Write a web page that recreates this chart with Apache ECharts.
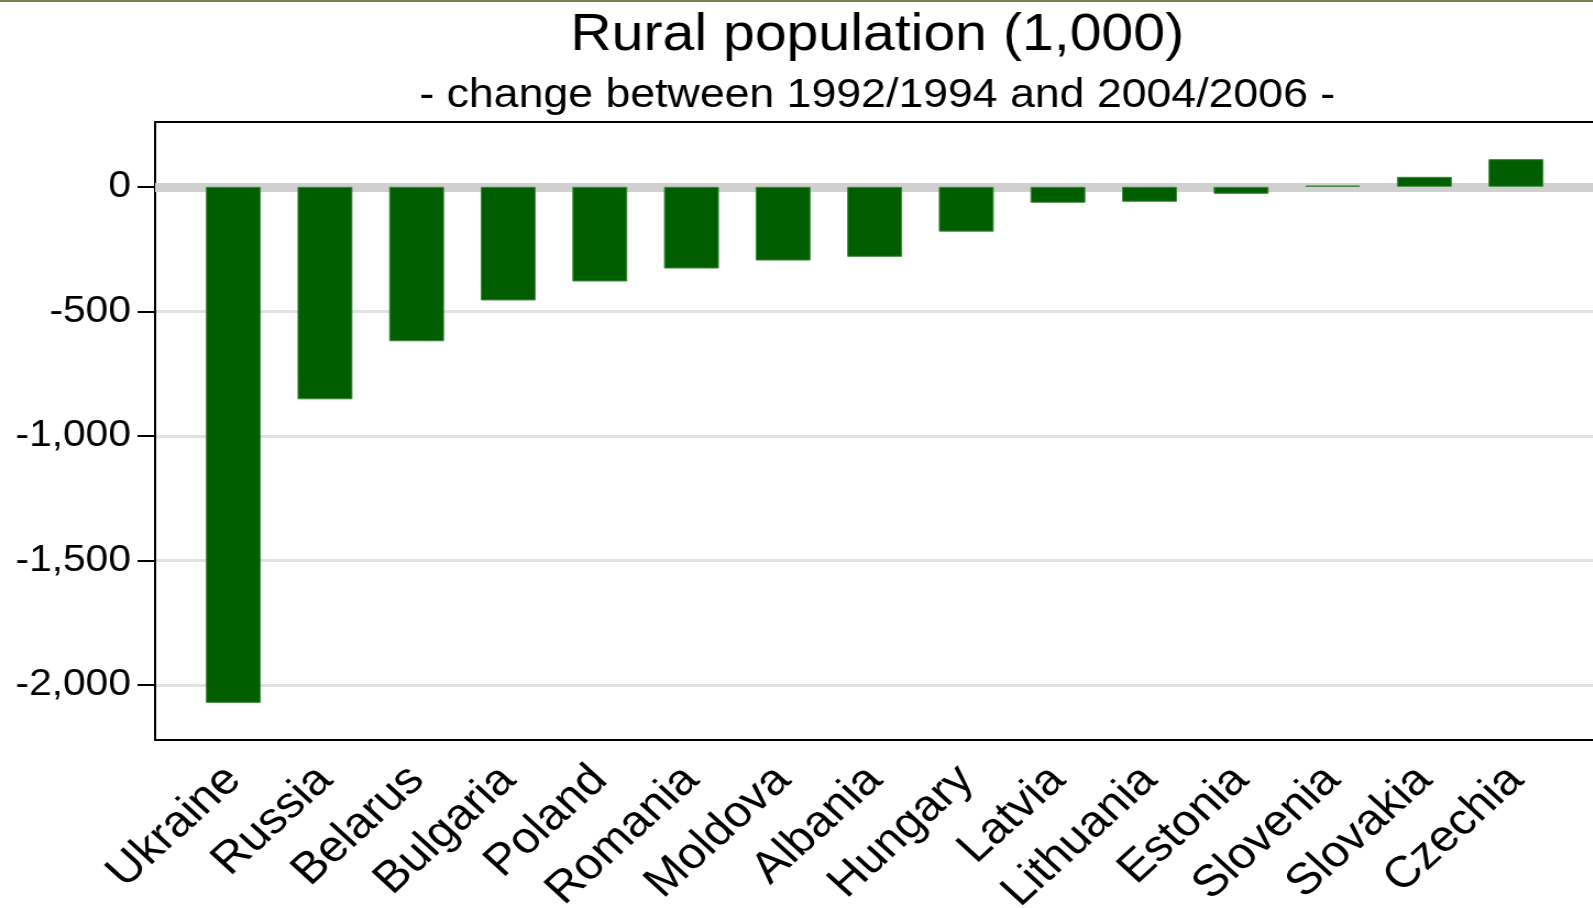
<!DOCTYPE html>
<html>
<head>
<meta charset="utf-8">
<script src="https://cdn.jsdelivr.net/npm/echarts@6/dist/echarts.min.js"></script>
<style>
html,body{margin:0;padding:0;background:#fff;overflow:hidden;}
#wrap{width:1593px;height:908px;overflow:hidden;}
#chart{width:1448px;height:908px;transform:scaleX(1.1);transform-origin:0 0;}
</style>
</head>
<body>
<div id="wrap"><div id="chart"></div></div>
<script>
const titleText = 'Rural population (1,000)';
const subtitleText = '- change between 1992/1994 and 2004/2006 -';
const countries = ['Ukraine','Russia','Belarus','Bulgaria','Poland','Romania','Moldova','Albania','Hungary','Latvia','Lithuania','Estonia','Slovenia','Slovakia','Czechia'];
const changeValues = [-2071, -853, -620, -456, -380, -328, -296, -281, -180, -64, -60, -28, 5, 40, 111];
const yTickValues = [0, -500, -1000, -1500, -2000];
const yMin = -2220, yMax = 260;

const chart = echarts.init(document.getElementById('chart'), null, {renderer:'canvas'});
const FONT = '"Liberation Sans", Arial, sans-serif';
const fmt = v => Number(v).toLocaleString('en-US');

chart.setOption({
  animation: false,
  backgroundColor: '#fff',
  title: [
    {text: titleText, left: 792.5, top: 5, textAlign: 'center',
     textStyle: {fontFamily: FONT, fontSize: 52, fontWeight: 'normal', color: '#000'}},
    {text: subtitleText, left: 792.5, top: 70, textAlign: 'center',
     textStyle: {fontFamily: FONT, fontSize: 40.6, fontWeight: 'normal', color: '#000'}}
  ],
  graphic: [
    {type: 'rect', shape: {x: 0, y: 0, width: 1448, height: 2}, style: {fill: '#7d7d52'}, silent: true}
  ],
  grid: [
    {left: 141, right: 0, top: 122, bottom: 168, containLabel: false, outerBoundsMode: 'none'},
    {left: 170.5, right: 28.2, top: 122, bottom: 168, containLabel: false, outerBoundsMode: 'none'}
  ],
  xAxis: [
    {type: 'value', gridIndex: 0, min: 0, max: 1, position: 'bottom',
     axisLine: {show: true, onZero: false, lineStyle: {color: '#000', width: 2}},
     axisTick: {show: false}, axisLabel: {show: false}, splitLine: {show: false}},
    {type: 'category', gridIndex: 1, data: countries, boundaryGap: true,
     axisLine: {show: false}, axisTick: {show: false},
     axisLabel: {rotate: 45, margin: 33, fontFamily: FONT, fontSize: 44, color: '#000', interval: 0}},
    {type: 'value', gridIndex: 0, min: 0, max: 1, position: 'top',
     axisLine: {show: true, onZero: false, lineStyle: {color: '#000', width: 2}},
     axisTick: {show: false}, axisLabel: {show: false}, splitLine: {show: false}}
  ],
  yAxis: [
    {type: 'value', gridIndex: 0, min: yMin, max: yMax,
     axisLine: {show: true, onZero: false, lineStyle: {color: '#000', width: 2}},
     axisTick: {show: true, customValues: yTickValues, length: 16, lineStyle: {color: '#000', width: 2}},
     axisLabel: {customValues: yTickValues, formatter: fmt, margin: 22, padding: [7, 0, 0, 0], fontFamily: FONT, fontSize: 37, color: '#000'},
     splitLine: {show: true, lineStyle: {color: '#e2e2e2', width: 3}}},
    {type: 'value', gridIndex: 1, min: yMin, max: yMax, show: false, splitLine: {show: false}}
  ],
  series: [
    {type: 'line', xAxisIndex: 0, yAxisIndex: 0, data: [], z: 1,
     markLine: {silent: true, z: 1, symbol: 'none', label: {show: false},
       lineStyle: {color: '#d0d0d0', width: 9, type: 'solid'},
       data: [{yAxis: 0}]}},
    {type: 'bar', xAxisIndex: 1, yAxisIndex: 1, data: changeValues, z: 3,
     barCategoryGap: '40%',
     itemStyle: {color: '#005e00', borderColor: '#3d8a3d', borderWidth: 1}}
  ]
});
</script>
</body>
</html>
